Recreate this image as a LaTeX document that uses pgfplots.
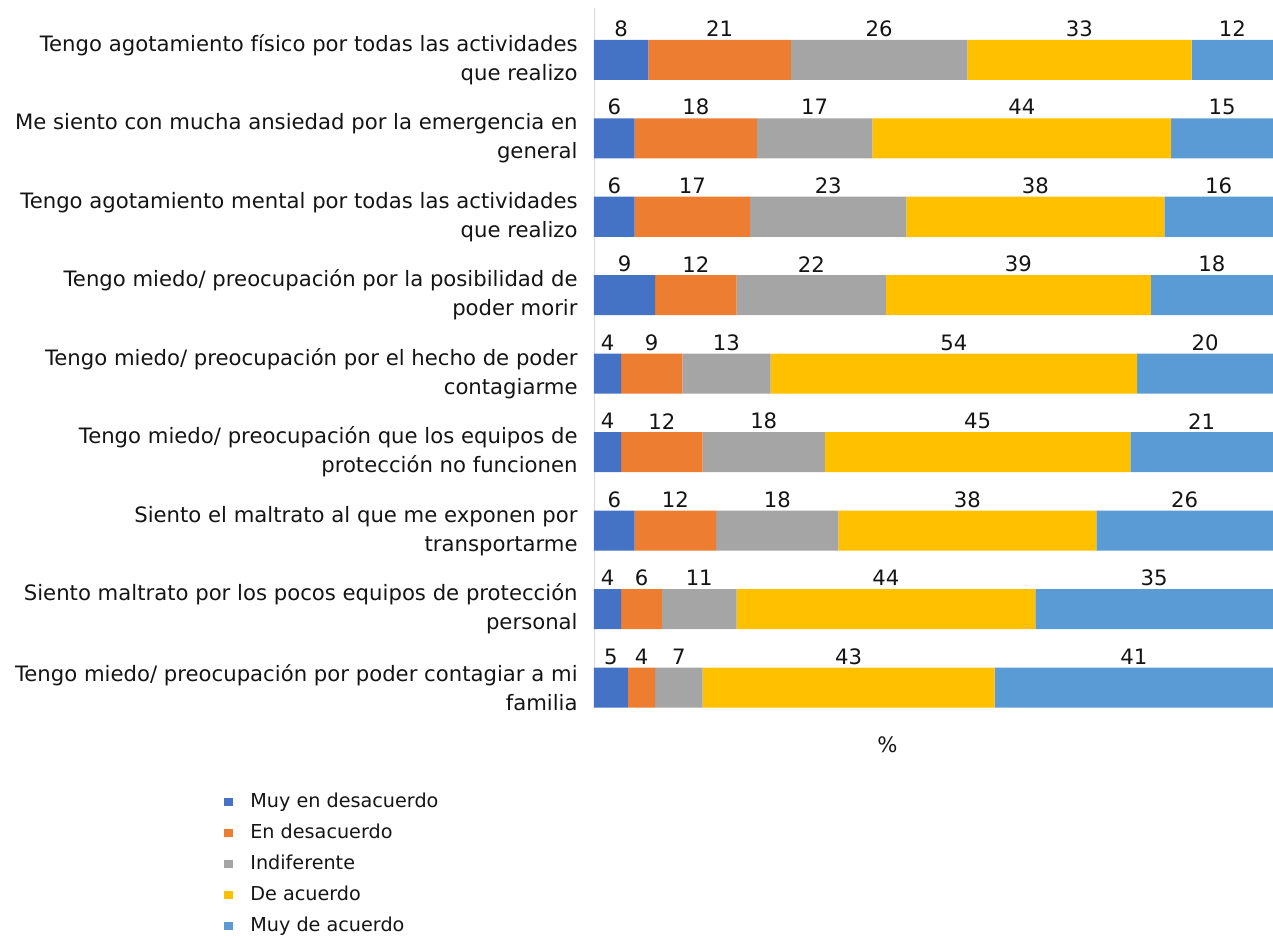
\documentclass[border=0pt]{standalone}
\usepackage{fontspec}
\setmainfont{DejaVu Sans}
\usepackage{pgfplots}
\usepackage{pgfplotstable}
\pgfplotsset{compat=1.18}

\definecolor{c1}{HTML}{4472C4}
\definecolor{c2}{HTML}{ED7D31}
\definecolor{c3}{HTML}{A5A5A5}
\definecolor{c4}{HTML}{FFC000}
\definecolor{c5}{HTML}{5B9BD5}

% one row per statement, values in %
\pgfplotstableread{
y v1 v2 v3 v4 v5
1 8 21 26 33 12
2 6 18 17 44 15
3 6 17 23 38 16
4 9 12 22 39 18
5 4 9 13 54 20
6 4 12 18 45 21
7 6 12 18 38 26
8 4 6 11 44 35
9 5 4 7 43 41
}\datatable

\begin{document}
\begin{tikzpicture}
\begin{axis}[
  name=ax,
  at={(0,0)}, anchor=south west,
  scale only axis,
  width=339.5pt, height=350pt,
  xbar stacked,
  bar width=0.51,
  xmin=0, xmax=100,
  ymin=0.34, ymax=9.26,
  y dir=reverse,
  axis y line=left,
  axis x line*=bottom,
  y axis line style={-, draw=black!15},
  x axis line style={draw=none},
  xtick=\empty,
  ytick={1,...,9},
  yticklabels={
    {Tengo agotamiento físico por todas las actividades\\que realizo},
    {Me siento con mucha ansiedad por la emergencia en\\general},
    {Tengo agotamiento mental por todas las actividades\\que realizo},
    {Tengo miedo/ preocupación por la posibilidad de\\poder morir},
    {Tengo miedo/ preocupación por el hecho de poder\\contagiarme},
    {Tengo miedo/ preocupación que los equipos de\\protección no funcionen},
    {Siento el maltrato al que me exponen por\\transportarme},
    {Siento maltrato por los pocos equipos de protección\\personal},
    {Tengo miedo/ preocupación por poder contagiar a mi\\familia}},
  major tick length=0pt,
  yticklabel style={align=right, inner sep=0pt, xshift=-8pt,
    font=\fontsize{10.6}{14.5}\selectfont, text=black!92},
  /pgf/number format/assume math mode=true,
  visualization depends on={rawx \as \rawx},
  nodes near coords={\pgfmathprintnumber{\rawx}},
  every node near coord/.append style={anchor=center, text=black!92,
    font=\fontsize{10.6}{13}\selectfont, yshift=15.5pt},
  xlabel={\%},
  xlabel style={at={(axis description cs:0.432,0)}, anchor=center,
    yshift=-18.5pt, font=\fontsize{10.6}{13}\selectfont, text=black!92},
  legend cell align=left,
  legend style={at={(axis description cs:-0.545,0)}, anchor=north west,
    yshift=-40.5pt, draw=none, fill=none, inner sep=0pt,
    font=\fontsize{9.6}{11}\selectfont, text=black!92, row sep=3pt,
    nodes={inner sep=1.5pt, text height=7.5pt, text depth=2pt}},
  legend image code/.code={
    \fill[#1, draw=none] (0pt,-2.2pt) rectangle (4.4pt,2.2pt);
    \path[draw=none, fill=none] (4.4pt,0pt) -- (11.5pt,0pt);},
  clip=false,
]
\addplot[fill=c1, draw=none] table[x=v1, y=y] {\datatable};
\addplot[fill=c2, draw=none] table[x=v2, y=y] {\datatable};
\addplot[fill=c3, draw=none] table[x=v3, y=y] {\datatable};
\addplot[fill=c4, draw=none] table[x=v4, y=y] {\datatable};
\addplot[fill=c5, draw=none] table[x=v5, y=y] {\datatable};
\legend{Muy en desacuerdo, En desacuerdo, Indiferente, De acuerdo, Muy de acuerdo}
\end{axis}
\pgfresetboundingbox
\path (-297pt,-114.5pt) rectangle (339.5pt,354pt);
\end{tikzpicture}
\end{document}
